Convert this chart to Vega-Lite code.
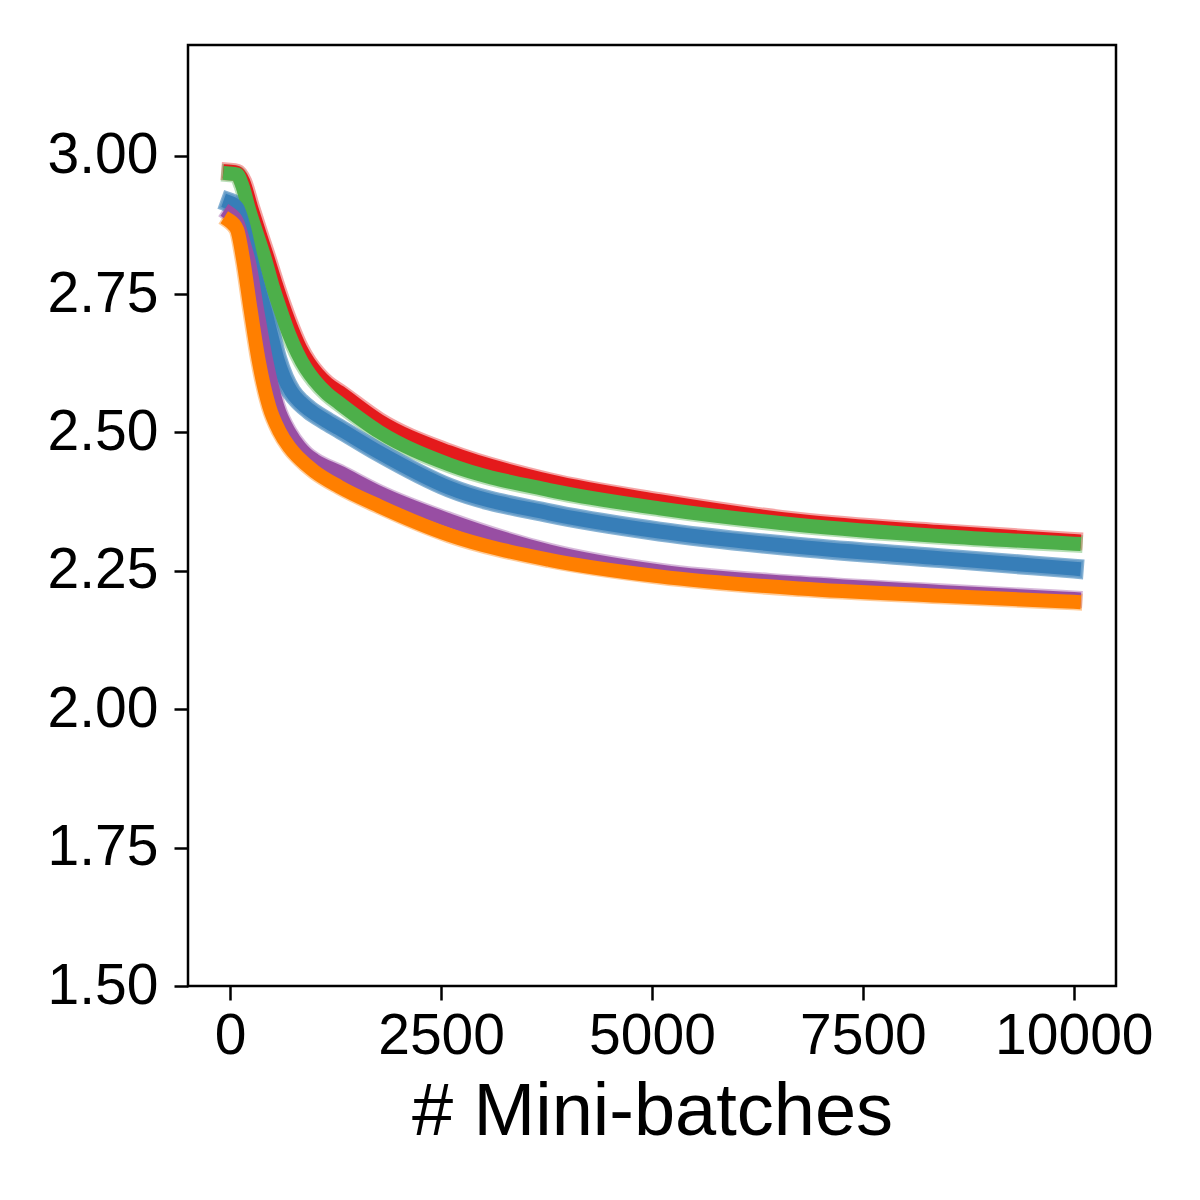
{
  "$schema": "https://vega.github.io/schema/vega-lite/v6.json",
  "description": "Training loss vs mini-batches for five runs, thick lines with light halos.",
  "width": 928,
  "height": 941,
  "autosize": {"type": "none"},
  "padding": {"left": 188, "top": 45, "right": 84, "bottom": 214},
  "background": "white",
  "config": {
    "font": "Liberation Sans",
    "view": {"stroke": "black", "strokeWidth": 2.5},
    "axis": {
      "domain": false,
      "grid": false,
      "ticks": true,
      "tickColor": "black",
      "tickWidth": 2.5,
      "tickSize": 14,
      "labelColor": "black",
      "labelFont": "Liberation Sans",
      "labelFontSize": 57,
      "titleColor": "black",
      "titleFont": "Liberation Sans",
      "titleFontWeight": "normal"
    }
  },
  "data": {
    "values": [
      {"run": "run1", "step": 0, "loss": 2.971},
      {"run": "run1", "step": 83, "loss": 2.969},
      {"run": "run1", "step": 154, "loss": 2.953},
      {"run": "run1", "step": 249, "loss": 2.906},
      {"run": "run1", "step": 344, "loss": 2.861},
      {"run": "run1", "step": 439, "loss": 2.817},
      {"run": "run1", "step": 534, "loss": 2.771},
      {"run": "run1", "step": 629, "loss": 2.728},
      {"run": "run1", "step": 735, "loss": 2.685},
      {"run": "run1", "step": 830, "loss": 2.652},
      {"run": "run1", "step": 930, "loss": 2.626},
      {"run": "run1", "step": 1032, "loss": 2.606},
      {"run": "run1", "step": 1150, "loss": 2.588},
      {"run": "run1", "step": 1293, "loss": 2.573},
      {"run": "run1", "step": 1767, "loss": 2.521},
      {"run": "run1", "step": 2598, "loss": 2.464},
      {"run": "run1", "step": 3784, "loss": 2.412},
      {"run": "run1", "step": 5089, "loss": 2.376},
      {"run": "run1", "step": 6750, "loss": 2.340},
      {"run": "run1", "step": 8410, "loss": 2.320},
      {"run": "run1", "step": 10000, "loss": 2.304},

      {"run": "run2", "step": 0, "loss": 2.968},
      {"run": "run2", "step": 83, "loss": 2.966},
      {"run": "run2", "step": 142, "loss": 2.947},
      {"run": "run2", "step": 225, "loss": 2.902},
      {"run": "run2", "step": 320, "loss": 2.857},
      {"run": "run2", "step": 415, "loss": 2.812},
      {"run": "run2", "step": 498, "loss": 2.767},
      {"run": "run2", "step": 593, "loss": 2.723},
      {"run": "run2", "step": 700, "loss": 2.677},
      {"run": "run2", "step": 795, "loss": 2.644},
      {"run": "run2", "step": 900, "loss": 2.615},
      {"run": "run2", "step": 996, "loss": 2.595},
      {"run": "run2", "step": 1150, "loss": 2.570},
      {"run": "run2", "step": 1293, "loss": 2.553},
      {"run": "run2", "step": 1767, "loss": 2.501},
      {"run": "run2", "step": 2598, "loss": 2.442},
      {"run": "run2", "step": 3784, "loss": 2.396},
      {"run": "run2", "step": 5089, "loss": 2.363},
      {"run": "run2", "step": 6750, "loss": 2.333},
      {"run": "run2", "step": 8410, "loss": 2.313},
      {"run": "run2", "step": 10000, "loss": 2.299},

      {"run": "run3", "step": 0, "loss": 2.915},
      {"run": "run3", "step": 83, "loss": 2.906},
      {"run": "run3", "step": 154, "loss": 2.875},
      {"run": "run3", "step": 249, "loss": 2.812},
      {"run": "run3", "step": 344, "loss": 2.757},
      {"run": "run3", "step": 415, "loss": 2.719},
      {"run": "run3", "step": 486, "loss": 2.676},
      {"run": "run3", "step": 558, "loss": 2.633},
      {"run": "run3", "step": 641, "loss": 2.598},
      {"run": "run3", "step": 724, "loss": 2.574},
      {"run": "run3", "step": 830, "loss": 2.555},
      {"run": "run3", "step": 937, "loss": 2.541},
      {"run": "run3", "step": 1115, "loss": 2.523},
      {"run": "run3", "step": 1293, "loss": 2.507},
      {"run": "run3", "step": 1767, "loss": 2.464},
      {"run": "run3", "step": 2598, "loss": 2.400},
      {"run": "run3", "step": 3784, "loss": 2.354},
      {"run": "run3", "step": 5089, "loss": 2.321},
      {"run": "run3", "step": 6750, "loss": 2.293},
      {"run": "run3", "step": 8410, "loss": 2.273},
      {"run": "run3", "step": 10000, "loss": 2.254},

      {"run": "run4", "step": 0, "loss": 2.895},
      {"run": "run4", "step": 83, "loss": 2.880},
      {"run": "run4", "step": 166, "loss": 2.839},
      {"run": "run4", "step": 225, "loss": 2.806},
      {"run": "run4", "step": 320, "loss": 2.721},
      {"run": "run4", "step": 427, "loss": 2.630},
      {"run": "run4", "step": 558, "loss": 2.547},
      {"run": "run4", "step": 700, "loss": 2.500},
      {"run": "run4", "step": 819, "loss": 2.474},
      {"run": "run4", "step": 900, "loss": 2.461},
      {"run": "run4", "step": 996, "loss": 2.450},
      {"run": "run4", "step": 1293, "loss": 2.428},
      {"run": "run4", "step": 1767, "loss": 2.391},
      {"run": "run4", "step": 2598, "loss": 2.341},
      {"run": "run4", "step": 3784, "loss": 2.285},
      {"run": "run4", "step": 5089, "loss": 2.249},
      {"run": "run4", "step": 6750, "loss": 2.227},
      {"run": "run4", "step": 8410, "loss": 2.212},
      {"run": "run4", "step": 10000, "loss": 2.199},

      {"run": "run5", "step": 0, "loss": 2.882},
      {"run": "run5", "step": 83, "loss": 2.866},
      {"run": "run5", "step": 154, "loss": 2.812},
      {"run": "run5", "step": 243, "loss": 2.721},
      {"run": "run5", "step": 338, "loss": 2.630},
      {"run": "run5", "step": 463, "loss": 2.547},
      {"run": "run5", "step": 581, "loss": 2.503},
      {"run": "run5", "step": 700, "loss": 2.474},
      {"run": "run5", "step": 795, "loss": 2.457},
      {"run": "run5", "step": 900, "loss": 2.442},
      {"run": "run5", "step": 996, "loss": 2.430},
      {"run": "run5", "step": 1293, "loss": 2.402},
      {"run": "run5", "step": 1767, "loss": 2.367},
      {"run": "run5", "step": 2598, "loss": 2.315},
      {"run": "run5", "step": 3784, "loss": 2.270},
      {"run": "run5", "step": 5089, "loss": 2.240},
      {"run": "run5", "step": 6750, "loss": 2.218},
      {"run": "run5", "step": 8410, "loss": 2.205},
      {"run": "run5", "step": 10000, "loss": 2.194}
    ]
  },
  "encoding": {
    "x": {
      "field": "step",
      "type": "quantitative",
      "title": "# Mini-batches",
      "scale": {"domain": [-500, 10500], "nice": false, "zero": false},
      "axis": {
        "values": [0, 2500, 5000, 7500, 10000],
        "format": "d",
        "labelPadding": 8,
        "titleFontSize": 74,
        "titlePadding": 12
      }
    },
    "y": {
      "field": "loss",
      "type": "quantitative",
      "title": null,
      "scale": {"domain": [1.5, 3.2], "nice": false, "zero": false},
      "axis": {
        "values": [1.5, 1.75, 2.0, 2.25, 2.5, 2.75, 3.0],
        "format": ".2f",
        "labelPadding": 16
      }
    },
    "color": {
      "field": "run",
      "type": "nominal",
      "legend": null,
      "scale": {
        "domain": ["run1", "run2", "run3", "run4", "run5"],
        "range": ["#e41a1c", "#4daf4a", "#377eb8", "#984ea3", "#ff7f00"]
      }
    }
  },
  "layer": [
    {
      "mark": {"type": "line", "interpolate": "monotone", "opacity": 0.4, "strokeCap": "square", "strokeJoin": "round"},
      "encoding": {
        "strokeWidth": {
          "field": "run",
          "type": "ordinal",
          "legend": null,
          "scale": {"domain": ["run1", "run2", "run3", "run4", "run5"], "range": [18, 17, 28, 18, 16]}
        }
      }
    },
    {
      "transform": [{"filter": "datum.run == 'run3'"}],
      "mark": {"type": "line", "interpolate": "monotone", "opacity": 0.6, "strokeWidth": 20, "strokeCap": "square", "strokeJoin": "round"},
      "encoding": {}
    },
    {
      "mark": {"type": "line", "interpolate": "monotone", "strokeWidth": 14, "strokeCap": "square", "strokeJoin": "round"},
      "encoding": {}
    }
  ]
}
